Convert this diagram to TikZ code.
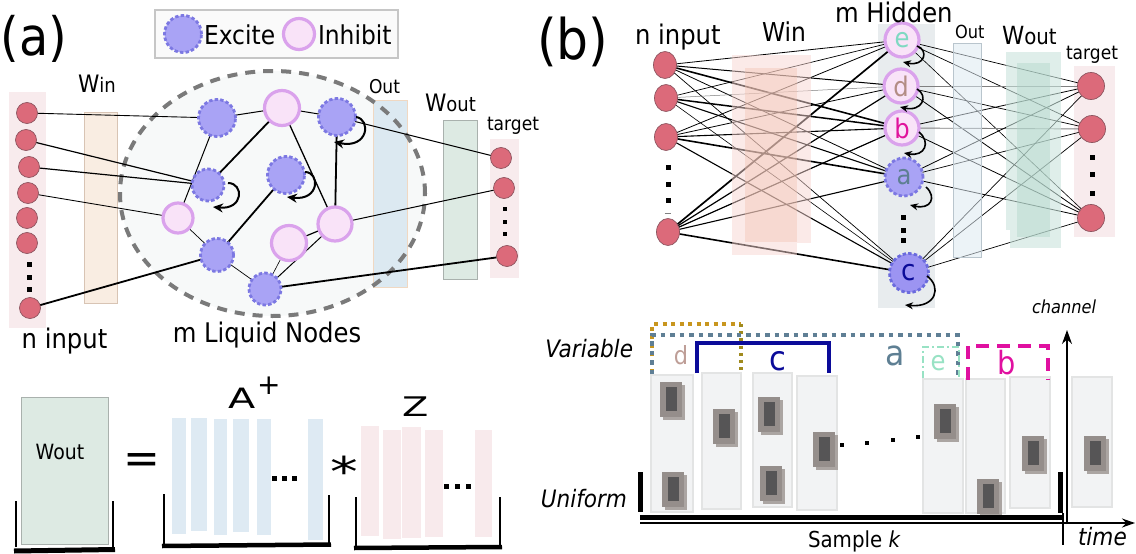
\documentclass[tikz,border=0pt]{standalone}
\usepackage{fontspec}
\usepackage{graphicx}
\setmainfont{DejaVu Sans}[FakeStretch=0.9, ItalicFont={DejaVu Sans Oblique}]
\newfontfamily\plainsans{DejaVu Sans}
\newfontfamily\widesans{DejaVu Sans}[FakeStretch=1.42]
\usetikzlibrary{arrows.meta,shapes.geometric,calc}
\newcommand{\fsz}[1]{\fontsize{#1}{#1}\selectfont}
\newcommand{\sqdot}[3]{\fill (#1-#3/2,#2-#3/2) rectangle (#1+#3/2,#2+#3/2);}
\newcommand{\dbox}[2]{%
  \fill[dshadow] (#1+2.5,#2+2.5) rectangle (#1+24.5,#2+37.5);
  \fill[dboxc] (#1,#2) rectangle (#1+22,#2+35);
  \fill[dinner] (#1+6,#2+5) rectangle (#1+17,#2+29);}
\definecolor{inred}{HTML}{DC6A7A}
\definecolor{inborder}{HTML}{8E5560}
\definecolor{pinkcol}{HTML}{F8EBED}
\definecolor{exfill}{HTML}{A9A3F5}
\definecolor{exdraw}{HTML}{7C78E2}
\definecolor{cfill}{HTML}{9C94F2}
\definecolor{cdraw}{HTML}{6B6BDD}
\definecolor{ihfill}{HTML}{F9E3F8}
\definecolor{ihdraw}{HTML}{DAA2EC}
\definecolor{winfill}{HTML}{F9EDE2}
\definecolor{windraw}{HTML}{D8C4B4}
\definecolor{outfill}{HTML}{DCE9F1}
\definecolor{outdraw}{HTML}{F0D8C2}
\definecolor{outdrawb}{HTML}{B9C5CD}
\definecolor{woutfill}{HTML}{DDEAE3}
\definecolor{woutdraw}{HTML}{A9B1AD}
\definecolor{liquid}{HTML}{F7F9F9}
\definecolor{dashgray}{HTML}{7A7A7A}
\definecolor{legfill}{HTML}{FAFAFA}
\definecolor{legdraw}{HTML}{C6C6C6}
\definecolor{hidcol}{HTML}{E8ECEE}
\definecolor{winb1}{HTML}{F8D6D2}
\definecolor{winb2}{HTML}{F2C0AE}
\definecolor{woutb1}{HTML}{C9E3DC}
\definecolor{woutb2}{HTML}{ABD3C6}
\definecolor{ecol}{HTML}{7FD9C2}
\definecolor{dcol}{HTML}{B38D85}
\definecolor{bcol}{HTML}{E0139C}
\definecolor{acol}{HTML}{5E7F93}
\definecolor{ccol}{HTML}{0B0B99}
\definecolor{colfill}{HTML}{F2F3F4}
\definecolor{colborder}{HTML}{E3E4E4}
\definecolor{dshadow}{HTML}{ABA5A2}
\definecolor{dboxc}{HTML}{958E8B}
\definecolor{dinner}{HTML}{565556}
\definecolor{orangedot}{HTML}{C8961E}
\definecolor{olivedot}{HTML}{A08A1E}
\definecolor{slate}{HTML}{5F7F95}
\definecolor{mint}{HTML}{98E2C4}
\definecolor{magb}{HTML}{E010A0}
\definecolor{bluebar}{HTML}{DEEAF3}
\definecolor{pinkbar}{HTML}{F8EAEC}
\pgfdeclarelayer{bg}
\pgfdeclarelayer{edges}
\pgfdeclarelayer{over}
\pgfsetlayers{bg,edges,over,main}
\begin{document}
\begin{tikzpicture}[x=1pt,y=-1pt,
  every node/.style={inner sep=0pt,outer sep=0pt},
  inp/.style={circle, fill=inred, draw=inborder, line width=0.7pt, minimum size=21pt},
  binp/.style={ellipse, fill=inred, draw=inborder, line width=0.7pt, minimum width=23pt, minimum height=27pt},
  tgt/.style={circle, fill=inred, draw=inborder, line width=0.7pt, minimum size=27pt},
  exc/.style={circle, fill=exfill, draw=exdraw, line width=2.8pt, dash pattern=on 3.4pt off 2.2pt, minimum size=#1},
  excc/.style={circle, fill=cfill, draw=cdraw, line width=2.8pt, dash pattern=on 3.4pt off 2.2pt, minimum size=#1},
  inh/.style={circle, fill=ihfill, draw=ihdraw, line width=3.2pt, minimum size=#1},
  loopa/.style={line width=2pt, -{Stealth[length=10pt,width=9pt]}},
  loopb/.style={line width=1.6pt, -{Stealth[length=8pt,width=7pt]}},
  samplecol/.style={draw=colborder, fill=colfill, line width=2.5pt}]
\useasboundingbox (0,0) rectangle (1136,554);

% ================= panel (a) =================
\begin{pgfonlayer}{bg}
\fill[pinkcol] (9,92) rectangle (46,328);
\draw[windraw, fill=winfill, line width=0.8pt] (84,112) rectangle (117,303);
\fill[liquid] (272.5,193.5) ellipse [x radius=152.5pt, y radius=122.5pt];
\draw[outdraw, fill=outfill, line width=0.8pt] (373,100) rectangle (407,287);
\draw[woutdraw, fill=woutfill, line width=0.9pt] (443,120) rectangle (477,279);
\fill[pinkcol] (490,139) rectangle (519,278);
\draw[dashgray, line width=4pt, dash pattern=on 10pt off 8pt] (272.5,193.5) ellipse [x radius=152.5pt, y radius=122.5pt];
\end{pgfonlayer}

\node[anchor=base west, font=\fsz{53}] (lblA) at (1,55) {(a)};

% legend
\draw[legdraw, fill=legfill, line width=2.5pt] (155,10) rectangle (398,58);
\node[exc=37pt] (lgE) at (183,34) {};
\node[anchor=west, font=\fsz{26}] (lgEt) at (204,35) {Excite};
\node[inh=31pt] (lgI) at (299,34) {};
\node[anchor=west, font=\fsz{26}] (lgIt) at (318,35) {Inhibit};

% inputs
\node[inp] (i1) at (27,113) {};
\node[inp] (i2) at (26,140) {};
\node[inp] (i3) at (29,167) {};
\node[inp] (i4) at (28,193) {};
\node[inp] (i5) at (27,218) {};
\node[inp] (i6) at (27,243) {};
\node[inp] (i7) at (30,308) {};
\sqdot{29.5}{264.5}{4.5}
\sqdot{29.5}{277.5}{4.5}
\sqdot{29.5}{289.5}{4.5}

% liquid nodes
\node[exc=37pt] (E1) at (217,118) {};
\node[inh=35pt] (I1) at (282,108) {};
\node[exc=37pt] (E2) at (337,117) {};
\node[exc=32pt] (E3) at (208,185) {};
\node[exc=37pt] (E4) at (286,175) {};
\node[inh=30pt] (I2) at (178,218) {};
\node[inh=34pt] (I3) at (335,224) {};
\node[inh=35pt] (I4) at (289,243) {};
\node[exc=33pt] (E5) at (217,255) {};
\node[exc=32pt] (E6) at (265,289) {};

% targets
\node[inp] (t1) at (501,158) {};
\node[inp] (t2) at (504,188) {};
\node[inp] (t3) at (507,256) {};
\sqdot{505}{209}{4}
\sqdot{505}{222}{4}
\sqdot{505}{234}{4}

\begin{pgfonlayer}{edges}
\draw[line width=0.9pt] (i1) -- (E1);
\draw[line width=1.2pt] (i2) -- (E3);
\draw[line width=1.2pt] (i3) -- (E3);
\draw[line width=0.9pt] (i4) -- (I2);
\draw[line width=1.8pt] (i7) -- (E5);
\draw[line width=1.0pt] (E1) -- (I1);
\draw[line width=1.0pt] (I1) -- (E2);
\draw[line width=1.0pt] (E1) -- (I2);
\draw[line width=1.8pt] (I1) -- (E3);
\draw[line width=1.3pt] (I1) -- (I3);
\draw[line width=1.8pt] (I3) -- (E2);
\draw[line width=0.7pt] (I2) -- (E5);
\draw[line width=1.8pt] (E5) -- (E4);
\draw[line width=0.7pt] (E5) -- (E6);
\draw[line width=0.6pt] (E6) -- (I4);
\draw[line width=1.0pt] (E6) -- (I3);
\draw[line width=1.2pt] (I4) -- (I3);
\draw[line width=1.8pt] (E6) -- (t3);
\draw[line width=1.0pt] (I3) -- (t2);
\draw[line width=1.0pt] (E2) -- (t1);
\end{pgfonlayer}

\draw[loopa] ($(E3)+(20,-2)$) .. controls ($(E3)+(36,-2)$) and ($(E3)+(36,25)$) .. ($(E3)+(5,22)$);
\draw[loopa] ($(E4)+(19,-3)$) .. controls ($(E4)+(34,-3)$) and ($(E4)+(34,26)$) .. ($(E4)+(1,22)$);
\draw[loopa] ($(E2)+(19,0)$) .. controls ($(E2)+(34,2)$) and ($(E2)+(32,32)$) .. ($(E2)+(-3,25)$);

\node[anchor=base west] (lwin) at (78,92) {\fsz{24}W\fsz{20}in};
\node[anchor=base, font=\fsz{27}] (lnin) at (64.5,348) {n input};
\node[anchor=base, font=\fsz{27}] (lliq) at (267,342) {m Liquid Nodes};
\node[anchor=base west, font=\fsz{19}] (lout) at (369,93) {Out};
\node[anchor=base west] (lwout) at (425,111) {\fsz{24}W\fsz{20}out};
\node[anchor=base west, font=\fsz{19}] (ltgt) at (487,130) {target};

% ================= panel (b) =================
\begin{pgfonlayer}{bg}
\fill[hidcol] (878,24) rectangle (935,308);
\fill[pinkcol] (1074,66) rectangle (1115,237);
\end{pgfonlayer}
\begin{pgfonlayer}{over}
\fill[winb1, opacity=0.5] (732,55) rectangle (811,243);
\fill[winb1, opacity=0.5] (732,243) rectangle (797,255);
\fill[winb2, opacity=0.4] (745,68) rectangle (797,242);
\draw[outdrawb, fill=outfill, fill opacity=0.55, line width=0.8pt] (953,43) rectangle (981,257);
\fill[woutb1, opacity=0.6] (1006,52) rectangle (1061,230);
\fill[woutb1, opacity=0.6] (1010,230) rectangle (1061,248);
\fill[woutb2, opacity=0.4] (1017,63) rectangle (1050,237);
\end{pgfonlayer}

\node[anchor=base west, font=\fsz{56}] (lblB) at (537,59) {(b)};

\node[binp] (B1) at (665,65) {};
\node[binp] (B2) at (666,98) {};
\node[binp] (B3) at (666,137) {};
\node[binp] (B4) at (668,232) {};
\sqdot{668}{167.5}{5}
\sqdot{668}{184.5}{5}
\sqdot{668}{200.5}{5}
\draw[gray, line width=0.8pt] (664.5,213.5) -- (670.5,213.5);

\node[inh=34pt, font=\fsz{27}, text=ecol] (He) at (902,40) {e};
\node[inh=34pt, font=\fsz{27}, text=dcol] (Hd) at (901,86) {d};
\node[inh=34pt, font=\fsz{27}, text=bcol] (Hb) at (902,128) {b};
\node[exc=38pt, font=\fsz{27}, text=acol] (Ha) at (904,177) {a};
\node[excc=39pt, font=\fsz{29}, text=ccol] (Hc) at (909,273) {c};
\sqdot{903}{217}{5}
\sqdot{903}{230}{5}
\sqdot{903}{240.5}{5}

\node[tgt] (T1) at (1091,86) {};
\node[tgt] (T2) at (1092,129) {};
\node[tgt] (T3) at (1091,218) {};
\sqdot{1092}{157}{5}
\sqdot{1092}{174.5}{5}
\sqdot{1092}{193.5}{5}

\begin{pgfonlayer}{edges}
\foreach \s/\t/\w/\c in {B1/He/0.8/black, B1/Hd/1.0/black, B1/Hb/1.6/black, B1/Ha/0.8/black, B1/Hc/0.7/black,
  B2/He/0.7/black, B2/Hd/0.5/gray, B2/Hb/1.5/black, B2/Ha/1.1/black, B2/Hc/0.6/black,
  B3/He/0.8/black, B3/Hd/0.8/black, B3/Hb/1.1/black, B3/Ha/1.6/black, B3/Hc/1.1/black,
  B4/He/1.7/black, B4/Hd/1.2/black, B4/Hb/1.2/black, B4/Ha/1.1/black, B4/Hc/1.6/black}
  \draw[line width=\w pt, \c] (\s) -- (\t);
\foreach \s/\t/\w/\c in {He/T1/0.7/black, He/T2/0.7/black, He/T3/0.6/black,
  Hd/T1/0.9/gray, Hd/T2/0.7/black, Hd/T3/0.8/black,
  Hb/T1/0.8/black, Hb/T2/0.9/gray, Hb/T3/0.8/black,
  Ha/T1/0.8/black, Ha/T2/0.7/black, Ha/T3/0.8/black,
  Hc/T1/0.7/black, Hc/T2/0.7/black, Hc/T3/0.7/black}
  \draw[line width=\w pt, \c] (\s) -- (\t);
\end{pgfonlayer}

\draw[loopb] ($(He)+(15,6)$) .. controls ($(He)+(27,10)$) and ($(He)+(23,27)$) .. ($(He)+(1,22)$);
\draw[loopb] ($(Hd)+(16,3)$) .. controls ($(Hd)+(28,10)$) and ($(Hd)+(21,26)$) .. ($(Hd)+(-1,21)$);
\draw[loopb] ($(Hb)+(17,4)$) .. controls ($(Hb)+(29,14)$) and ($(Hb)+(23,29)$) .. ($(Hb)+(2,25)$);
\draw[loopb] ($(Ha)+(22,10)$) .. controls ($(Ha)+(33,20)$) and ($(Ha)+(27,33)$) .. ($(Ha)+(6,28)$);
\draw[loopb] ($(Hc)+(18,3)$) .. controls ($(Hc)+(33,14)$) and ($(Hc)+(27,35)$) .. ($(Hc)+(-4,32)$);

\node[anchor=base west, font=\fsz{27}] (lbnin) at (635,45) {n input};
\node[anchor=base west, font=\fsz{26}] (lbwin) at (762,41) {Win};
\node[anchor=base west, font=\fsz{27}] (lbhid) at (835,22) {m Hidden};
\node[anchor=base west, font=\fsz{18}] (lbout) at (955,38) {Out};
\node[anchor=base west] (lbwout) at (1002,45) {\fsz{25}W\fsz{22}out};
\node[anchor=base west, font=\fsz{19}] (lbtgt) at (1066,59) {target};
\node[anchor=base west, font=\fsz{18}\itshape] (lchan) at (1032,313) {channel};

% ================= bottom right =================
\draw[samplecol] (651,375) rectangle (693,512);
\draw[samplecol] (702,373) rectangle (741,509);
\draw[samplecol] (753,373) rectangle (792,507);
\draw[samplecol] (797,376) rectangle (837,510);
\draw[samplecol] (923,379) rectangle (963,513);
\draw[samplecol] (966,379) rectangle (1005,513);
\draw[samplecol] (1010,377) rectangle (1050,508);
\draw[samplecol] (1072,377) rectangle (1112,507);

\dbox{660}{382}
\dbox{662}{472}
\dbox{713}{409}
\dbox{758}{397}
\dbox{760}{466}
\dbox{813}{432}
\dbox{934}{404}
\dbox{977}{479}
\dbox{1022}{436}
\dbox{1084}{436}

\sqdot{842}{445}{4.5}
\sqdot{867}{443}{4.5}
\sqdot{893}{440}{4.5}
\sqdot{918}{437}{4.5}

\draw[orangedot, line width=4pt, dash pattern=on 4pt off 4.5pt] (652,373) -- (652,324) -- (741,324);
\draw[olivedot, line width=3.2pt, dash pattern=on 3.2pt off 4pt] (741,324) -- (741,373);
\draw[slate, line width=4.5pt, dash pattern=on 4.5pt off 5pt] (652,374) -- (652,335) -- (958,335) -- (958,378);
\draw[ccol, line width=3.2pt] (697,373) -- (697,343) -- (829,343) -- (829,373);
\draw[mint, line width=2.8pt, dash pattern=on 7pt off 3pt on 2pt off 3pt] (923,378) -- (923,347) -- (959,347) -- (959,378);
\draw[magb, line width=3.8pt, dash pattern=on 13pt off 8pt] (968,380) -- (968,346) -- (1048,346) -- (1048,380);

\node[font=\fsz{25}, text=dcol!85!white] (vd) at (681,355) {d};
\node[font=\fsz{34}, text=ccol] (vc) at (778,361) {c};
\node[font=\fsz{35}, text=acol] (va) at (895,356) {a};
\node[font=\fsz{27}, text=mint] (ve) at (938,363) {e};
\node[font=\fsz{32}, text=magb] (vb) at (1007,363) {b};

\node[anchor=base east, font=\fsz{24}\itshape] (lvar) at (633,357) {Variable};
\node[anchor=base east, font=\fsz{24}\itshape] (luni) at (627,507) {Uniform};

\coordinate (ub1) at (640,472);
\coordinate (ub2) at (640,512);
\coordinate (ta0) at (640,517);
\coordinate (ta1) at (1062,517);
\coordinate (tb0) at (640,523);
\coordinate (tb1) at (1135,523);
\coordinate (rb1) at (1060,472);
\coordinate (rb2) at (1060,513);
\coordinate (rc1) at (1063,513);
\coordinate (rc2) at (1063,545);
\coordinate (ch0) at (1067,524);
\coordinate (ch1) at (1067,330);
\draw[line width=5pt] (ub1) -- (ub2);
\draw[line width=5pt] (ta0) -- (ta1);
\draw[line width=1.4pt, -{Stealth[length=13pt,width=9pt]}] (tb0) -- (tb1);
\draw[line width=5pt] (rb1) -- (rb2);
\draw[line width=1.5pt] (rc1) -- (rc2);
\draw[line width=1.4pt, -{Stealth[length=14pt,width=10pt]}] (ch0) -- (ch1);

\node[anchor=base west, font=\fsz{22}] (lsamp) at (808,547) {Sample \textit{k}};
\node[anchor=base west, font=\fsz{24}\itshape] (ltime) at (1078,545) {time};

% ================= bottom left =================
\draw[woutdraw, fill=woutfill, line width=0.9pt] (21,397) rectangle (108,544);
\node[font=\fsz{21}] (bwout) at (60,452) {Wout};
\draw[line width=2.2pt] (16,501) -- (16,547);
\draw[line width=2.2pt] (113,501) -- (113,547);
\draw[line width=5pt] (14,551) -- (115,549.5);

\node[anchor=north, font=\plainsans\fsz{44}] (eq) at (142,453.5) {=};

\fill[bluebar] (172,418) rectangle (186,534);
\fill[bluebar] (191,418) rectangle (207,531);
\fill[bluebar] (214,419) rectangle (227,535);
\fill[bluebar] (233,419) rectangle (249,532);
\fill[bluebar] (257,419) rectangle (271,535);
\fill[bluebar] (308,419) rectangle (323,540);
\sqdot{274.5}{478.5}{5}
\sqdot{284.5}{478.5}{5}
\sqdot{294.5}{478.5}{5}
\draw[line width=2.2pt] (164,494) -- (164,546);
\draw[line width=2.2pt] (329,495) -- (329,546);
\draw[line width=4.5pt] (162,546) -- (331,544.5);
\node[anchor=base west, font=\widesans\fsz{28}] (lA) at (228,408) {A};
\node[anchor=base west, font=\plainsans\fsz{28}] (lplus) at (257,394) {+};

\node[anchor=north, font=\plainsans\fsz{41}] (ast) at (344.5,456) {\scalebox{1.35}[1]{*}};

\fill[pinkbar] (361,426) rectangle (379,536);
\fill[pinkbar] (383,430) rectangle (401,539);
\fill[pinkbar] (402,427) rectangle (421,538);
\fill[pinkbar] (425,430) rectangle (443,537);
\fill[pinkbar] (475,430) rectangle (492,537);
\sqdot{446.5}{486.5}{5}
\sqdot{457.5}{486.5}{5}
\sqdot{468.5}{486.5}{5}
\draw[line width=2.2pt] (356,497) -- (356,547);
\draw[line width=2.2pt] (500,497) -- (500,547);
\draw[line width=4.5pt] (354,548) -- (502,547);
\node[anchor=base west, font=\widesans\fsz{27}] (lZ) at (402,416) {Z};
\end{tikzpicture}
\end{document}
